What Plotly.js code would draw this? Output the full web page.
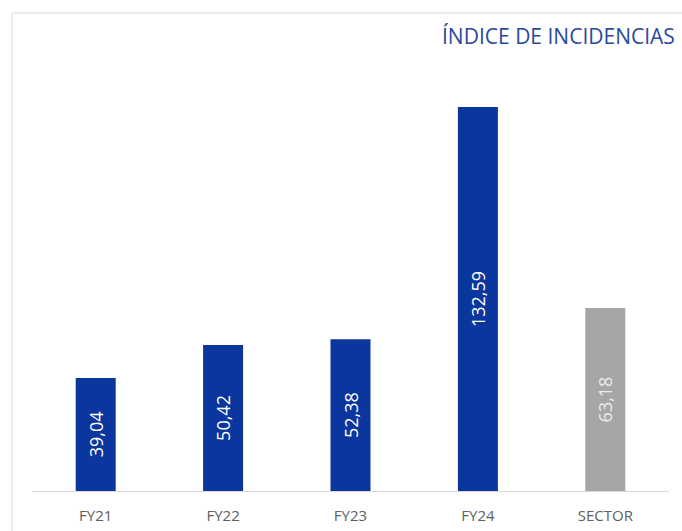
<!DOCTYPE html>
<html><head><meta charset="utf-8">
<script src="https://cdn.plot.ly/plotly-3.0.1.min.js"></script>
<style>html,body{margin:0;padding:0;background:#fff;}#chart{width:682px;height:531px;}</style>
</head><body><div id="chart"></div>
<script>
const categories = ["FY21", "FY22", "FY23", "FY24", "SECTOR"];
const values = [39.04, 50.42, 52.38, 132.59, 63.18];
const labels = ["39,04", "50,42", "52,38", "132,59", "63,18"];
const barColors = ["#0a369d", "#0a369d", "#0a369d", "#0a369d", "#a6a6a6"];
const textColors = ["#ffffff", "#ffffff", "#ffffff", "#ffffff", "#ececec"];
const titleText = "ÍNDICE DE INCIDENCIAS";

const L = 32, R = 13, T = 80, B = 40, W = 682, H = 531;
const pw = W - L - R, ph = H - T - B;
const px = x => (x - L) / pw;
const py = y => (H - B - y) / ph;

Plotly.newPlot("chart", [{
  type: "bar",
  x: categories,
  y: values,
  text: labels,
  texttemplate: "%{text}",
  textposition: "inside",
  insidetextanchor: "middle",
  textangle: -90,
  textfont: {family: "Open Sans, sans-serif", size: 18, color: textColors},
  marker: {color: barColors},
  hoverinfo: "none"
}], {
  width: W, height: H,
  margin: {l: L, r: R, t: T, b: B},
  paper_bgcolor: "#ffffff", plot_bgcolor: "#ffffff",
  bargap: 0.686,
  showlegend: false,
  xaxis: {
    showline: true, linecolor: "#d9d9d9", linewidth: 1,
    ticks: "", showgrid: false, zeroline: false,
    tickfont: {family: "Open Sans, sans-serif", size: 15, color: "#606060"},
    ticklabelstandoff: 11
  },
  yaxis: {range: [0, 141.9], visible: false, showgrid: false, zeroline: false},
  annotations: [{
    text: titleText, xref: "paper", yref: "paper",
    x: px(677), y: py(36), xanchor: "right", yanchor: "middle",
    showarrow: false,
    font: {family: "Open Sans, sans-serif", size: 21, color: "#2a4a9a"}
  }],
  shapes: [
    {type: "line", xref: "paper", yref: "paper", x0: px(12), x1: px(682), y0: py(13), y1: py(13), line: {color: "#e6e6e6", width: 1.5}},
    {type: "line", xref: "paper", yref: "paper", x0: px(12), x1: px(12), y0: py(13), y1: py(531), line: {color: "#e6e6e6", width: 1.5}}
  ]
}, {displayModeBar: false, staticPlot: true});
</script></body></html>
